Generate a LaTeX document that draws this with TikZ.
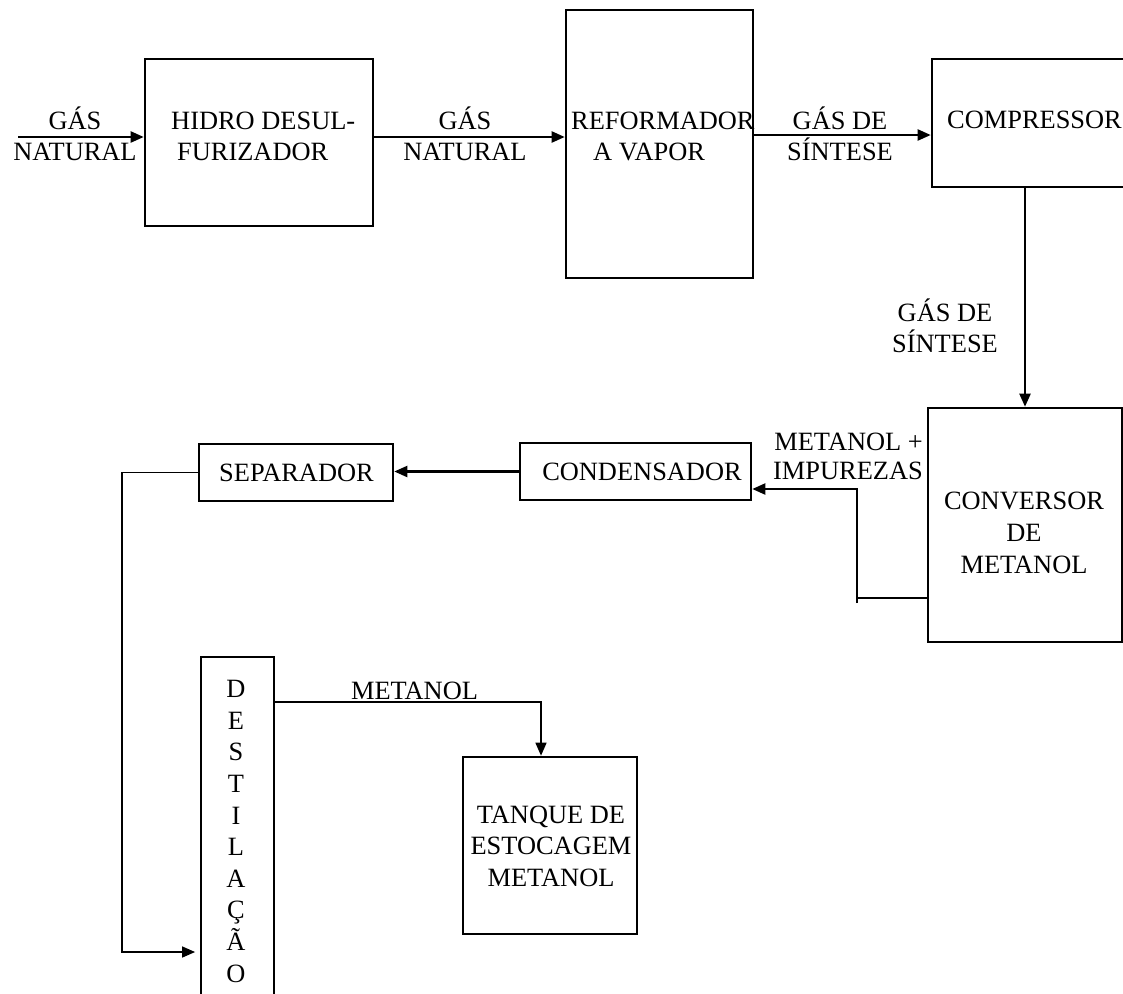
\documentclass[tikz,border=0pt]{standalone}
\usepackage{fontspec}
\setmainfont{Liberation Serif}
\usetikzlibrary{arrows.meta}

\tikzset{
  unitbox/.style={draw, line width=2.6pt, inner sep=0pt},
  lbl/.style={font=\fontsize{26.4}{31}\selectfont, inner sep=0pt, align=center},
  pipe/.style={line width=2.2pt},
  flow/.style={pipe, -{Triangle[length=13pt,width=11pt]}},
  thinflow/.style={line width=1.4pt, -{Triangle[length=13pt,width=11pt]}},
}

\begin{document}
\begin{tikzpicture}[x=1pt, y=-1pt]
\useasboundingbox (0,0) rectangle (1123,993);

% units
\node[unitbox, minimum width=228pt, minimum height=167pt] (hidro) at (259,142.5) {};
\node[unitbox, minimum width=187pt, minimum height=268pt] (reform) at (659.5,144) {};
\node[unitbox, minimum width=198pt, minimum height=128pt] (comp) at (1031,123) {};
\node[unitbox, minimum width=194pt, minimum height=234pt] (conv) at (1025,525) {};
\node[unitbox, minimum width=231pt, minimum height=57pt] (cond) at (635.5,471.5) {};
\node[unitbox, minimum width=194pt, minimum height=57pt] (sep) at (296,472.5) {};
\node[unitbox, line width=1.8pt, minimum width=73pt, minimum height=360pt] (dest) at (237.5,837) {};
\node[unitbox, minimum width=174pt, minimum height=177pt] (tank) at (550,845.5) {};

% texts (base = last line)
\node[lbl, anchor=base west, align=left] (thidro) at (171,160) {HIDRO DESUL-\\\hspace*{6pt}FURIZADOR};
\node[lbl, anchor=base west, align=left] (treform) at (571,160) {REFORMADOR\\\hspace*{22pt}A VAPOR};
\node[lbl, anchor=base west] (tcomp) at (947,128) {COMPRESSOR};
\node[lbl, anchor=base, font=\fontsize{26.4}{32}\selectfont] (tconv) at (1024,573) {CONVERSOR\\DE\\METANOL};
\node[lbl, anchor=base] (tcond) at (642,480) {CONDENSADOR};
\node[lbl, anchor=base] (tsep) at (296.5,481) {SEPARADOR};
\node[lbl, anchor=base, font=\fontsize{26.4}{31.6}\selectfont] (tdest) at (236,982) {D\\E\\S\\T\\I\\L\\A\\Ç\\Ã\\O};
\node[lbl, anchor=base, font=\fontsize{26.4}{31.5}\selectfont] (ttank) at (551,886) {TANQUE DE\\ESTOCAGEM\\METANOL};

% stream labels
\node[lbl, anchor=base] (gn1) at (75,160) {GÁS\\NATURAL};
\node[lbl, anchor=base] (gn2) at (465,160) {GÁS\\NATURAL};
\node[lbl, anchor=base] (gs1) at (840,160) {GÁS DE\\SÍNTESE};
\node[lbl, anchor=base] (gs2) at (945,352) {GÁS DE\\SÍNTESE};
\node[lbl, anchor=base east, align=right, font=\fontsize{26.4}{29}\selectfont] (mi) at (923,479) {METANOL +\\IMPUREZAS};
\node[lbl, anchor=base] (tmet) at (414.5,699) {METANOL};

% routing points
\coordinate (feed) at (18,137);
\coordinate (r2) at (0,135);
\coordinate (r3) at (0,598);
\coordinate (r4) at (0,489);
\coordinate (k1) at (857,0);
\coordinate (k2) at (122,952);
\coordinate (k3) at (541,702);

% streams
\draw[flow] (feed) -- (feed -| hidro.west);
\draw[flow] (hidro.east |- feed) -- (reform.west |- feed);
\draw[flow] (reform.east |- r2) -- (comp.west |- r2);
\draw[flow] (comp.south -| conv.north) -- (conv.north);
\draw[pipe] (conv.west |- r3) -- (k1 |- r3);
\draw[flow] ([yshift=-5pt]k1 |- r3) -- (k1 |- r4) -- (cond.east |- r4);
\draw[flow] (cond.west) -- (cond.west -| sep.east);
\draw[thinflow] (sep.west) -| (k2) -- ([xshift=-5pt]dest.west |- k2);
\draw[thinflow] (dest.east |- k3) -- (k3) -- (k3 |- tank.north);
\end{tikzpicture}
\end{document}
